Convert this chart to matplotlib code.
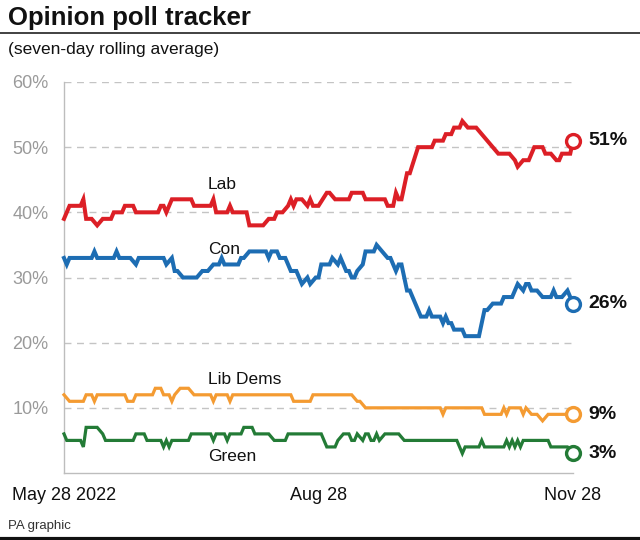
import pandas as pd
import matplotlib
matplotlib.use("Agg")
import matplotlib.pyplot as plt
import matplotlib.dates as mdates
from matplotlib.lines import Line2D

plt.rcParams['font.family'] = ['Liberation Sans', 'DejaVu Sans']

START = pd.Timestamp("2022-05-28")

# days since May 28 2022 where each line changes, and the value (%) at that day
lab_days = [0,2,6,7,8,10,12,14,17,18,21,22,25,26,34,35,36,37,39,46,47,53,54,55,59,60,61,66,67,72,
            74,76,77,79,81,82,83,84,86,88,89,90,92,95,96,98,103,104,108,109,116,117,119,120,121,122,
            124,125,128,133,134,137,138,140,141,143,144,146,149,151,153,155,157,161,163,164,166,168,
            170,173,174,176,178,179,180,183,184]
lab_vals = [39,41,41,42,39,39,38,39,39,40,40,41,41,40,40,41,41,40,42,42,41,41,42,40,40,41,40,40,38,38,
            39,39,40,40,41,42,41,42,42,41,42,41,41,43,43,42,42,43,43,42,42,41,41,43,42,42,
            46,46,50,50,51,51,52,52,53,53,54,53,53,52,51,50,49,49,48,47,48,48,
            50,50,49,49,48,48,49,49,51]

con_days = [0,1,2,10,11,12,18,19,20,24,26,27,36,37,39,40,41,43,48,50,52,54,56,57,58,63,64,65,67,73,
            74,75,77,78,80,81,82,84,85,86,88,89,91,92,93,96,97,99,100,102,103,104,105,106,108,109,
            112,113,115,117,118,120,121,122,124,125,127,128,129,131,132,133,136,137,138,139,140,141,
            144,145,150,151,152,153,155,158,159,162,163,164,166,167,168,169,171,173,176,177,178,180,
            182,183,184]
con_vals = [33,32,33,33,34,33,33,34,33,33,32,33,33,32,33,31,31,30,30,31,31,32,32,33,32,32,33,33,34,34,
            33,34,34,33,33,32,31,31,30,29,30,29,30,30,32,32,33,32,33,31,31,30,30,31,32,34,
            34,35,34,33,33,31,32,32,28,28,26,25,24,24,25,24,24,23,24,23,23,22,
            22,21,21,23,25,25,26,26,27,27,28,29,28,29,29,28,28,27,27,28,27,27,
            28,27,26]

ld_days = [0,2,7,8,10,11,12,22,23,25,26,32,33,35,36,38,39,40,42,45,47,53,54,55,59,60,61,82,83,89,
           90,104,106,107,109,136,137,138,151,152,158,159,160,161,165,166,167,169,171,173,175,183,184]
ld_vals = [12,11,11,12,12,11,12,12,11,11,12,12,13,13,12,12,11,12,13,13,12,12,11,12,12,11,12,12,11,11,
           12,12,11,11,10,10,9,10,10,9,9,10,9,10,10,9,10,9,9,8,9,9,9]

gr_days = [0,1,6,7,8,12,14,15,25,26,29,30,35,36,37,38,39,45,46,53,54,55,58,59,60,64,65,68,69,74,
           76,80,81,93,95,98,99,101,103,104,105,106,108,109,110,111,112,113,114,116,121,123,142,144,
           145,150,151,152,159,160,161,162,163,164,165,166,175,176,182,184]
gr_vals = [6,5,5,4,7,7,6,5,5,6,6,5,5,4,5,4,5,5,6,6,5,6,6,5,6,6,7,7,6,6,
           5,5,6,6,4,4,5,6,6,5,5,6,5,6,6,5,5,6,5,6,6,5,5,3,
           4,4,5,4,4,5,4,5,4,5,4,5,5,4,4,3]

parties = ["Lab", "Con", "Lib Dems", "Green"]
colors = ["#dc1f26", "#1d6db3", "#f49b32", "#237b36"]
widths = [2.9, 2.9, 2.3, 2.3]
series = [(lab_days, lab_vals), (con_days, con_vals), (ld_days, ld_vals), (gr_days, gr_vals)]
label_pos = [44.3, 34.3, 14.3, 2.5]   # y of the in-chart party names
x_ticks = ["2022-05-28", "2022-08-28", "2022-11-28"]
x_tick_labels = ["May 28 2022", "Aug 28", "Nov 28"]
y_ticks = [10, 20, 30, 40, 50, 60]

fig = plt.figure(figsize=(6.4, 5.4), dpi=100)
ax = fig.add_axes([64/640, 1-473/540, (573-64)/640, (473-82)/540])

for (days, vals), name, col, lw, ly in zip(series, parties, colors, widths, label_pos):
    dates = START + pd.to_timedelta(days, unit="D")
    ax.plot(dates, vals, color=col, lw=lw, solid_joinstyle="miter", zorder=3, clip_on=False)
    ax.plot(dates[-1], vals[-1], "o", ms=10, mfc="white", mec=col, mew=2.4, zorder=4, clip_on=False)
    ax.annotate(f"{vals[-1]}%", (dates[-1], vals[-1]), xytext=(11, 0), textcoords="offset points",
                va="center", ha="left", fontsize=14, fontweight="bold", color="#111111")
    ax.text(START + pd.Timedelta(days=52), ly, name, fontsize=12.5, color="#111111",
            ha="left", va="center")

ax.set_ylim(0, 60)
ax.set_xlim(pd.Timestamp(x_ticks[0]), pd.Timestamp(x_ticks[-1]))
ax.set_yticks(y_ticks)
ax.set_yticklabels([f"{v}%" for v in y_ticks])
ax.set_xticks([pd.Timestamp(d) for d in x_ticks])
ax.set_xticklabels(x_tick_labels)
ax.tick_params(axis="y", length=0, pad=11, labelsize=13, labelcolor="#9a9a9a")
ax.tick_params(axis="x", length=0, pad=10, labelsize=13, labelcolor="#111111")
for v in y_ticks:
    ax.axhline(v, color="#c4c4c4", lw=1.0, ls=(0, (5, 4)), zorder=1)
for s in ["top", "right"]:
    ax.spines[s].set_visible(False)
for s in ["left", "bottom"]:
    ax.spines[s].set_color("#bdbdbd")
    ax.spines[s].set_linewidth(1.0)

fig.text(8/640, 1-25/540, "Opinion poll tracker", fontsize=18.5, fontweight="bold",
         color="#111111", ha="left", va="baseline")
fig.add_artist(Line2D([0, 1], [1-33/540, 1-33/540], color="#333333", lw=1.3))
fig.text(8/640, 1-54/540, "(seven-day rolling average)", fontsize=12.5, color="#111111",
         ha="left", va="baseline")
fig.text(8/640, 1-529/540, "PA graphic", fontsize=9.5, color="#333333", ha="left", va="baseline")
fig.add_artist(Line2D([0, 1], [1.5/540, 1.5/540], color="#111111", lw=3))

fig.savefig("out.png", dpi=100)
